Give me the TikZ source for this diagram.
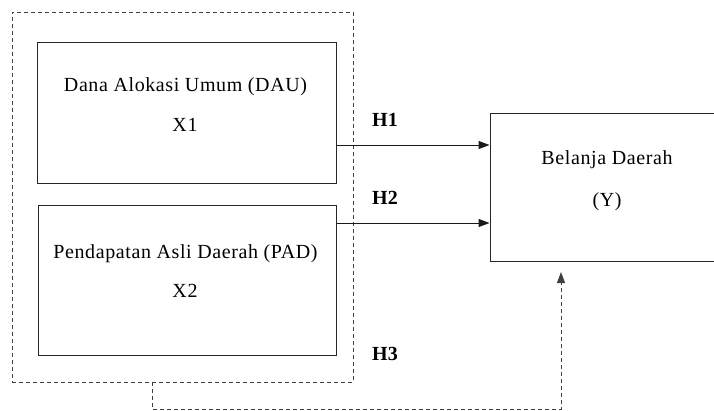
\documentclass[tikz,border=0pt]{standalone}
\usepackage{fontspec}
\setmainfont{Liberation Serif}
\newfontfamily\spacedserif[LetterSpace=3]{Liberation Serif}
\usetikzlibrary{arrows.meta}

\tikzset{
  box/.style={draw=black!85, line width=1pt, minimum width=#1, inner sep=0pt},
  frame/.style={draw=black!75, line width=1pt, dash pattern=on 4pt off 3pt},
  lbl/.style={anchor=base, inner sep=0pt, font=\spacedserif\fontsize{20}{24}\selectfont},
  hlbl/.style={anchor=base west, inner sep=0pt, font=\fontsize{20}{24}\selectfont\bfseries},
  arr/.style={draw=black!90, line width=1pt, -{Triangle[length=11pt,width=8pt]}},
  darr/.style={frame, -{Triangle[length=11pt,width=8pt]}},
}

\begin{document}
\begin{tikzpicture}[x=1pt, y=-1pt]
  \path[use as bounding box, clip] (0,0) rectangle (714,410);

  % outer dashed group around the two independent variables
  \node[frame, minimum width=341pt, minimum height=370pt, inner sep=0pt] (grp) at (182.5,197) {};

  % independent variable boxes
  \node[box=299pt, minimum height=141pt] (x1) at (186.5,112.5) {};
  \node[box=298pt, minimum height=150pt] (x2) at (187,280) {};

  % dependent variable box (runs past the right edge)
  \node[box=234pt, minimum height=148pt] (yb) at (607,187) {};

  % box texts
  \node[lbl] (t1a) at (185.5,91) {Dana Alokasi Umum (DAU)};
  \node[lbl] (t1b) at (185,131) {X1};
  \node[lbl] (t2a) at (185.5,258) {Pendapatan Asli Daerah (PAD)};
  \node[lbl] (t2b) at (185,297) {X2};
  \node[lbl] (t3a) at (607,164) {Belanja Daerah};
  \node[lbl] (t3b) at (607,206) {(Y)};

  % hypothesis labels
  \node[hlbl] (h1) at (372,126.5) {H1};
  \node[hlbl] (h2) at (372,204) {H2};
  \node[hlbl] (h3) at (372,360) {H3};

  % partial effects
  \coordinate (r1) at (0,145);
  \coordinate (r2) at (0,223);
  \draw[arr] (x1.east |- r1) -- (yb.west |- r1);
  \draw[arr] (x2.east |- r2) -- (yb.west |- r2);

  % simultaneous effect
  \coordinate (gdrop) at (152,382);
  \coordinate (gturn) at (152,409);
  \coordinate (yturn) at (561,409);
  \coordinate (ytip) at (561,272);
  \draw[darr] (gdrop) -- (gturn) -- (yturn) -- (ytip);
\end{tikzpicture}
\end{document}
